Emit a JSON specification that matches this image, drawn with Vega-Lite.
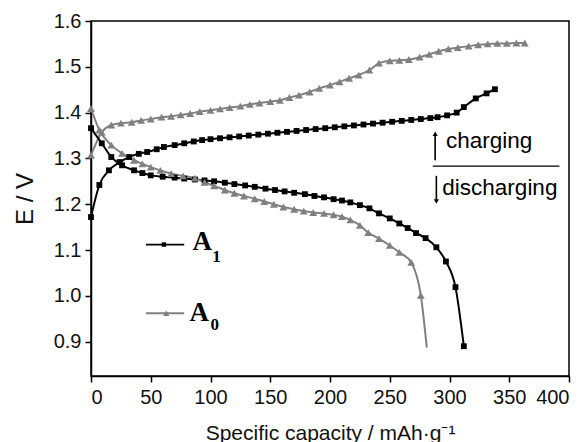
{
  "$schema": "https://vega.github.io/schema/vega-lite/v6.json",
  "width": 478,
  "height": 355,
  "autosize": {"type": "none"},
  "padding": {"left": 91, "top": 21, "right": 18, "bottom": 66},
  "background": "white",
  "config": {
    "view": {"stroke": "black", "strokeWidth": 1.5},
    "font": "Liberation Sans",
    "axis": {
      "domainColor": "black", "domainWidth": 1.5,
      "tickColor": "black", "tickWidth": 1.5, "tickSize": 6,
      "labelFont": "Liberation Sans", "labelFontSize": 20, "labelColor": "#111",
      "titleFont": "Liberation Sans", "titleFontSize": 21, "titleFontWeight": "normal", "titleColor": "#111",
      "grid": false
    }
  },
  "resolve": {"scale": {"shape": "independent", "size": "independent"}},
  "datasets": {
    "curves": [
      {"sample":"A1","branch":"charge","capacity":0,"E":1.172},
      {"sample":"A1","branch":"charge","capacity":7,"E":1.242},
      {"sample":"A1","branch":"charge","capacity":15,"E":1.274},
      {"sample":"A1","branch":"charge","capacity":24,"E":1.292},
      {"sample":"A1","branch":"charge","capacity":32,"E":1.303},
      {"sample":"A1","branch":"charge","capacity":40,"E":1.310},
      {"sample":"A1","branch":"charge","capacity":47,"E":1.314},
      {"sample":"A1","branch":"charge","capacity":55,"E":1.320},
      {"sample":"A1","branch":"charge","capacity":61,"E":1.325},
      {"sample":"A1","branch":"charge","capacity":70,"E":1.329},
      {"sample":"A1","branch":"charge","capacity":78,"E":1.333},
      {"sample":"A1","branch":"charge","capacity":86,"E":1.337},
      {"sample":"A1","branch":"charge","capacity":93,"E":1.340},
      {"sample":"A1","branch":"charge","capacity":100,"E":1.342},
      {"sample":"A1","branch":"charge","capacity":108,"E":1.344},
      {"sample":"A1","branch":"charge","capacity":116,"E":1.346},
      {"sample":"A1","branch":"charge","capacity":124,"E":1.348},
      {"sample":"A1","branch":"charge","capacity":132,"E":1.350},
      {"sample":"A1","branch":"charge","capacity":140,"E":1.352},
      {"sample":"A1","branch":"charge","capacity":148,"E":1.354},
      {"sample":"A1","branch":"charge","capacity":156,"E":1.356},
      {"sample":"A1","branch":"charge","capacity":164,"E":1.358},
      {"sample":"A1","branch":"charge","capacity":172,"E":1.360},
      {"sample":"A1","branch":"charge","capacity":180,"E":1.362},
      {"sample":"A1","branch":"charge","capacity":188,"E":1.364},
      {"sample":"A1","branch":"charge","capacity":196,"E":1.366},
      {"sample":"A1","branch":"charge","capacity":204,"E":1.368},
      {"sample":"A1","branch":"charge","capacity":212,"E":1.370},
      {"sample":"A1","branch":"charge","capacity":220,"E":1.372},
      {"sample":"A1","branch":"charge","capacity":228,"E":1.374},
      {"sample":"A1","branch":"charge","capacity":236,"E":1.376},
      {"sample":"A1","branch":"charge","capacity":244,"E":1.378},
      {"sample":"A1","branch":"charge","capacity":252,"E":1.380},
      {"sample":"A1","branch":"charge","capacity":260,"E":1.382},
      {"sample":"A1","branch":"charge","capacity":268,"E":1.384},
      {"sample":"A1","branch":"charge","capacity":276,"E":1.386},
      {"sample":"A1","branch":"charge","capacity":284,"E":1.388},
      {"sample":"A1","branch":"charge","capacity":290,"E":1.390},
      {"sample":"A1","branch":"charge","capacity":298,"E":1.394},
      {"sample":"A1","branch":"charge","capacity":306,"E":1.400},
      {"sample":"A1","branch":"charge","capacity":312,"E":1.412},
      {"sample":"A1","branch":"charge","capacity":322,"E":1.431},
      {"sample":"A1","branch":"charge","capacity":331,"E":1.442},
      {"sample":"A1","branch":"charge","capacity":338,"E":1.451},

      {"sample":"A0","branch":"charge","capacity":0,"E":1.307},
      {"sample":"A0","branch":"charge","capacity":9,"E":1.357},
      {"sample":"A0","branch":"charge","capacity":17,"E":1.373},
      {"sample":"A0","branch":"charge","capacity":25,"E":1.377},
      {"sample":"A0","branch":"charge","capacity":34,"E":1.379},
      {"sample":"A0","branch":"charge","capacity":42,"E":1.383},
      {"sample":"A0","branch":"charge","capacity":50,"E":1.386},
      {"sample":"A0","branch":"charge","capacity":59,"E":1.390},
      {"sample":"A0","branch":"charge","capacity":67,"E":1.392},
      {"sample":"A0","branch":"charge","capacity":75,"E":1.395},
      {"sample":"A0","branch":"charge","capacity":83,"E":1.398},
      {"sample":"A0","branch":"charge","capacity":91,"E":1.402},
      {"sample":"A0","branch":"charge","capacity":100,"E":1.405},
      {"sample":"A0","branch":"charge","capacity":108,"E":1.408},
      {"sample":"A0","branch":"charge","capacity":116,"E":1.411},
      {"sample":"A0","branch":"charge","capacity":125,"E":1.414},
      {"sample":"A0","branch":"charge","capacity":133,"E":1.418},
      {"sample":"A0","branch":"charge","capacity":141,"E":1.421},
      {"sample":"A0","branch":"charge","capacity":150,"E":1.424},
      {"sample":"A0","branch":"charge","capacity":158,"E":1.427},
      {"sample":"A0","branch":"charge","capacity":166,"E":1.433},
      {"sample":"A0","branch":"charge","capacity":174,"E":1.438},
      {"sample":"A0","branch":"charge","capacity":183,"E":1.445},
      {"sample":"A0","branch":"charge","capacity":191,"E":1.453},
      {"sample":"A0","branch":"charge","capacity":200,"E":1.460},
      {"sample":"A0","branch":"charge","capacity":208,"E":1.467},
      {"sample":"A0","branch":"charge","capacity":216,"E":1.475},
      {"sample":"A0","branch":"charge","capacity":224,"E":1.482},
      {"sample":"A0","branch":"charge","capacity":233,"E":1.493},
      {"sample":"A0","branch":"charge","capacity":241,"E":1.508},
      {"sample":"A0","branch":"charge","capacity":250,"E":1.513},
      {"sample":"A0","branch":"charge","capacity":258,"E":1.514},
      {"sample":"A0","branch":"charge","capacity":266,"E":1.516},
      {"sample":"A0","branch":"charge","capacity":275,"E":1.521},
      {"sample":"A0","branch":"charge","capacity":283,"E":1.527},
      {"sample":"A0","branch":"charge","capacity":291,"E":1.534},
      {"sample":"A0","branch":"charge","capacity":299,"E":1.539},
      {"sample":"A0","branch":"charge","capacity":307,"E":1.542},
      {"sample":"A0","branch":"charge","capacity":316,"E":1.545},
      {"sample":"A0","branch":"charge","capacity":324,"E":1.548},
      {"sample":"A0","branch":"charge","capacity":332,"E":1.550},
      {"sample":"A0","branch":"charge","capacity":340,"E":1.551},
      {"sample":"A0","branch":"charge","capacity":348,"E":1.551},
      {"sample":"A0","branch":"charge","capacity":356,"E":1.552},
      {"sample":"A0","branch":"charge","capacity":363,"E":1.552},

      {"sample":"A1","branch":"discharge","capacity":0,"E":1.366},
      {"sample":"A1","branch":"discharge","capacity":9,"E":1.333},
      {"sample":"A1","branch":"discharge","capacity":17,"E":1.303},
      {"sample":"A1","branch":"discharge","capacity":26,"E":1.285},
      {"sample":"A1","branch":"discharge","capacity":36,"E":1.274},
      {"sample":"A1","branch":"discharge","capacity":43,"E":1.268},
      {"sample":"A1","branch":"discharge","capacity":50,"E":1.263},
      {"sample":"A1","branch":"discharge","capacity":60,"E":1.260},
      {"sample":"A1","branch":"discharge","capacity":70,"E":1.258},
      {"sample":"A1","branch":"discharge","capacity":78,"E":1.256},
      {"sample":"A1","branch":"discharge","capacity":87,"E":1.254},
      {"sample":"A1","branch":"discharge","capacity":95,"E":1.252},
      {"sample":"A1","branch":"discharge","capacity":103,"E":1.250},
      {"sample":"A1","branch":"discharge","capacity":112,"E":1.247},
      {"sample":"A1","branch":"discharge","capacity":120,"E":1.244},
      {"sample":"A1","branch":"discharge","capacity":129,"E":1.241},
      {"sample":"A1","branch":"discharge","capacity":137,"E":1.238},
      {"sample":"A1","branch":"discharge","capacity":146,"E":1.234},
      {"sample":"A1","branch":"discharge","capacity":154,"E":1.231},
      {"sample":"A1","branch":"discharge","capacity":162,"E":1.228},
      {"sample":"A1","branch":"discharge","capacity":170,"E":1.225},
      {"sample":"A1","branch":"discharge","capacity":179,"E":1.222},
      {"sample":"A1","branch":"discharge","capacity":187,"E":1.218},
      {"sample":"A1","branch":"discharge","capacity":195,"E":1.215},
      {"sample":"A1","branch":"discharge","capacity":203,"E":1.211},
      {"sample":"A1","branch":"discharge","capacity":210,"E":1.208},
      {"sample":"A1","branch":"discharge","capacity":217,"E":1.204},
      {"sample":"A1","branch":"discharge","capacity":225,"E":1.198},
      {"sample":"A1","branch":"discharge","capacity":233,"E":1.191},
      {"sample":"A1","branch":"discharge","capacity":241,"E":1.180},
      {"sample":"A1","branch":"discharge","capacity":250,"E":1.169},
      {"sample":"A1","branch":"discharge","capacity":258,"E":1.158},
      {"sample":"A1","branch":"discharge","capacity":265,"E":1.148},
      {"sample":"A1","branch":"discharge","capacity":272,"E":1.137},
      {"sample":"A1","branch":"discharge","capacity":280,"E":1.126},
      {"sample":"A1","branch":"discharge","capacity":289,"E":1.106},
      {"sample":"A1","branch":"discharge","capacity":297,"E":1.075},
      {"sample":"A1","branch":"discharge","capacity":305,"E":1.019},
      {"sample":"A1","branch":"discharge","capacity":312,"E":0.890},

      {"sample":"A0","branch":"discharge","capacity":0,"E":1.409},
      {"sample":"A0","branch":"discharge","capacity":7,"E":1.362},
      {"sample":"A0","branch":"discharge","capacity":17,"E":1.329},
      {"sample":"A0","branch":"discharge","capacity":26,"E":1.311},
      {"sample":"A0","branch":"discharge","capacity":36,"E":1.296},
      {"sample":"A0","branch":"discharge","capacity":43,"E":1.288},
      {"sample":"A0","branch":"discharge","capacity":50,"E":1.281},
      {"sample":"A0","branch":"discharge","capacity":58,"E":1.274},
      {"sample":"A0","branch":"discharge","capacity":67,"E":1.267},
      {"sample":"A0","branch":"discharge","capacity":77,"E":1.262},
      {"sample":"A0","branch":"discharge","capacity":87,"E":1.257},
      {"sample":"A0","branch":"discharge","capacity":95,"E":1.248},
      {"sample":"A0","branch":"discharge","capacity":103,"E":1.240},
      {"sample":"A0","branch":"discharge","capacity":112,"E":1.231},
      {"sample":"A0","branch":"discharge","capacity":120,"E":1.224},
      {"sample":"A0","branch":"discharge","capacity":128,"E":1.218},
      {"sample":"A0","branch":"discharge","capacity":137,"E":1.212},
      {"sample":"A0","branch":"discharge","capacity":145,"E":1.206},
      {"sample":"A0","branch":"discharge","capacity":153,"E":1.200},
      {"sample":"A0","branch":"discharge","capacity":161,"E":1.194},
      {"sample":"A0","branch":"discharge","capacity":170,"E":1.189},
      {"sample":"A0","branch":"discharge","capacity":178,"E":1.185},
      {"sample":"A0","branch":"discharge","capacity":186,"E":1.182},
      {"sample":"A0","branch":"discharge","capacity":195,"E":1.180},
      {"sample":"A0","branch":"discharge","capacity":203,"E":1.177},
      {"sample":"A0","branch":"discharge","capacity":210,"E":1.173},
      {"sample":"A0","branch":"discharge","capacity":217,"E":1.166},
      {"sample":"A0","branch":"discharge","capacity":225,"E":1.154},
      {"sample":"A0","branch":"discharge","capacity":232,"E":1.138},
      {"sample":"A0","branch":"discharge","capacity":241,"E":1.125},
      {"sample":"A0","branch":"discharge","capacity":250,"E":1.110},
      {"sample":"A0","branch":"discharge","capacity":258,"E":1.095},
      {"sample":"A0","branch":"discharge","capacity":268,"E":1.073},
      {"sample":"A0","branch":"discharge","capacity":276,"E":1.001},
      {"sample":"A0","branch":"discharge","capacity":281,"E":0.887}
    ],
    "keyLines": [
      {"sample":"A1","capacity":46,"E":1.112},
      {"sample":"A1","capacity":78,"E":1.112},
      {"sample":"A0","capacity":46,"E":0.962},
      {"sample":"A0","capacity":78,"E":0.962}
    ],
    "keyMarks": [
      {"sample":"A1","capacity":61,"E":1.112},
      {"sample":"A0","capacity":63,"E":0.962}
    ],
    "keyMain": [
      {"text":"A","capacity":85,"E":1.099},
      {"text":"A","capacity":82.5,"E":0.946}
    ],
    "keySub": [
      {"text":"1","capacity":101.5,"E":1.073},
      {"text":"0","capacity":100,"E":0.925}
    ],
    "notes": [
      {"text":"charging","capacity":297,"E":1.322},
      {"text":"discharging","capacity":294,"E":1.220}
    ],
    "arrowShafts": [
      {"capacity":288,"E":1.296,"E2":1.352},
      {"capacity":289,"E":1.262,"E2":1.208}
    ],
    "arrowHeads": [
      {"dir":"up","capacity":288,"E":1.354},
      {"dir":"down","capacity":289,"E":1.206}
    ],
    "separator": [
      {"capacity":286,"capacity2":392,"E":1.283}
    ]
  },
  "encoding": {
    "x": {
      "field": "capacity", "type": "quantitative",
      "scale": {"domain": [0, 400], "nice": false, "zero": false},
      "axis": {"values": [0,50,100,150,200,250,300,350,400], "labelPadding": 5, "titlePadding": 15,
               "title": "Specific capacity / mAh·g⁻¹"}
    },
    "y": {
      "field": "E", "type": "quantitative",
      "scale": {"domain": [0.825, 1.6], "nice": false, "zero": false},
      "axis": {"values": [0.9,1.0,1.1,1.2,1.3,1.4,1.5,1.6], "format": ".1f", "labelPadding": 4, "titlePadding": 16,
               "title": "E / V", "titleFontSize": 24}
    }
  },
  "layer": [
    {
      "data": {"name": "curves"},
      "mark": {"type": "line", "interpolate": "monotone", "strokeWidth": 2},
      "encoding": {
        "detail": {"field": "branch"},
        "color": {"field": "sample", "type": "nominal", "scale": {"domain": ["A1","A0"], "range": ["#000000","#808080"]}, "legend": null}
      }
    },
    {
      "data": {"name": "curves"},
      "transform": [{"filter": "datum.sample == 'A1'"}],
      "mark": {"type": "point", "shape": "square", "filled": true, "size": 34, "color": "#000000", "opacity": 1}
    },
    {
      "data": {"name": "curves"},
      "transform": [{"filter": "datum.sample == 'A0' && datum.E > 0.95"}],
      "mark": {"type": "point", "shape": "triangle-up", "filled": true, "size": 62, "color": "#808080", "opacity": 1}
    },
    {
      "data": {"name": "keyLines"},
      "mark": {"type": "line", "strokeWidth": 1.8},
      "encoding": {
        "detail": {"field": "sample"},
        "color": {"field": "sample", "type": "nominal", "scale": {"domain": ["A1","A0"], "range": ["#000000","#808080"]}, "legend": null}
      }
    },
    {
      "data": {"name": "keyMarks"},
      "mark": {"type": "point", "filled": true, "opacity": 1},
      "encoding": {
        "shape": {"field": "sample", "type": "nominal", "scale": {"domain": ["A1","A0"], "range": ["square","triangle-up"]}, "legend": null},
        "size": {"field": "sample", "type": "nominal", "scale": {"domain": ["A1","A0"], "range": [20, 40]}, "legend": null},
        "color": {"field": "sample", "type": "nominal", "scale": {"domain": ["A1","A0"], "range": ["#000000","#808080"]}, "legend": null}
      }
    },
    {
      "data": {"name": "keyMain"},
      "mark": {"type": "text", "font": "Liberation Serif", "fontWeight": "bold", "fontSize": 27, "align": "left", "baseline": "alphabetic", "color": "#000"},
      "encoding": {"text": {"field": "text"}}
    },
    {
      "data": {"name": "keySub"},
      "mark": {"type": "text", "font": "Liberation Serif", "fontWeight": "bold", "fontSize": 17, "align": "left", "baseline": "alphabetic", "color": "#000"},
      "encoding": {"text": {"field": "text"}}
    },
    {
      "data": {"name": "notes"},
      "mark": {"type": "text", "font": "Liberation Sans", "fontSize": 22.5, "align": "left", "baseline": "alphabetic", "color": "#000"},
      "encoding": {"text": {"field": "text"}}
    },
    {
      "data": {"name": "arrowShafts"},
      "mark": {"type": "rule", "strokeWidth": 1.6, "color": "#000"},
      "encoding": {"y2": {"field": "E2"}}
    },
    {
      "data": {"name": "arrowHeads"},
      "mark": {"type": "point", "filled": true, "size": 26, "color": "#000", "opacity": 1},
      "encoding": {
        "shape": {"field": "dir", "type": "nominal", "scale": {"domain": ["up","down"], "range": ["triangle-up","triangle-down"]}, "legend": null}
      }
    },
    {
      "data": {"name": "separator"},
      "mark": {"type": "rule", "strokeWidth": 1.3, "color": "#000"},
      "encoding": {"x2": {"field": "capacity2"}}
    }
  ]
}
